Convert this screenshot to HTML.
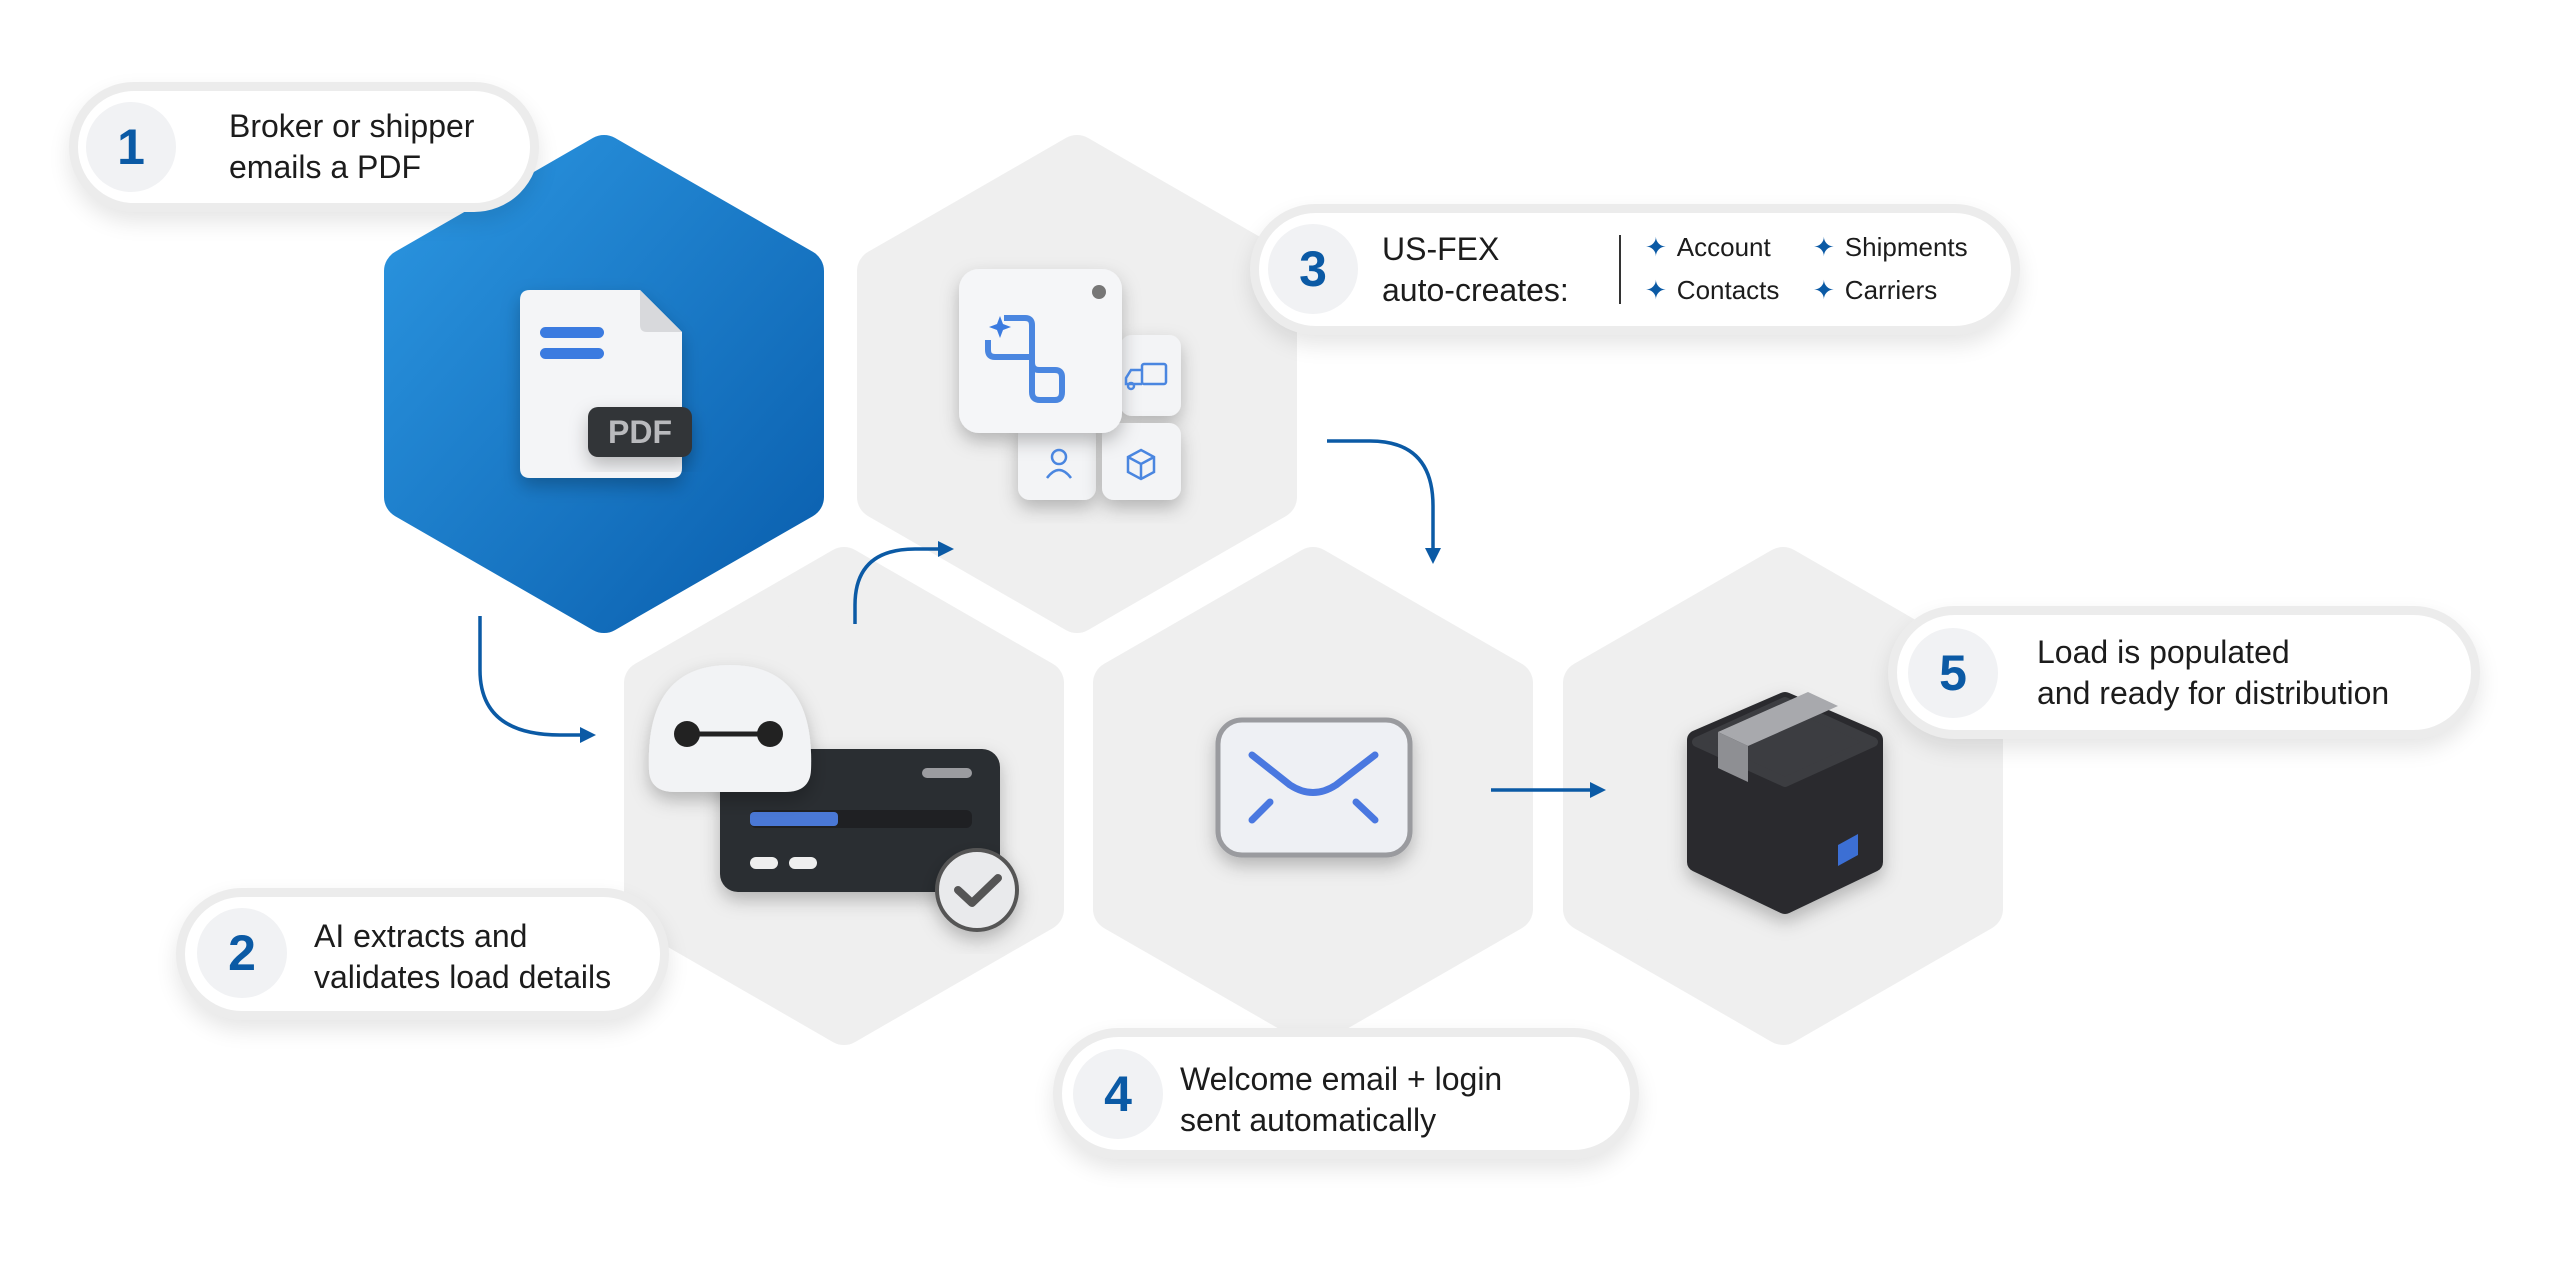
<!DOCTYPE html>
<html><head><meta charset="utf-8"><style>
html,body{margin:0;padding:0;background:#fff;}
body{width:2560px;height:1273px;position:relative;overflow:hidden;font-family:"Liberation Sans",sans-serif;}
.pill{position:absolute;background:#fff;border-radius:80px;border:9px solid #ececec;box-shadow:0 10px 22px rgba(0,0,0,0.10);box-sizing:border-box;}
.num{position:absolute;border-radius:50%;background:#f1f2f4;color:#0b5aa5;font-weight:bold;font-size:50px;display:flex;align-items:center;justify-content:center;}
.t{position:absolute;color:#1c1c1c;font-size:32px;line-height:41px;white-space:nowrap;}
.s{position:absolute;color:#1c1c1c;font-size:26px;line-height:43px;white-space:nowrap;}
.s b{color:#0b5aa5;font-weight:normal;margin-right:10px;}
svg{position:absolute;left:0;top:0;}
</style></head><body>
<svg width="2560" height="1273" viewBox="0 0 2560 1273">
<defs>
<linearGradient id="bg" x1="0" y1="0" x2="1" y2="1"><stop offset="0" stop-color="#2b95e0"/><stop offset="1" stop-color="#0a5fae"/></linearGradient>
<filter id="sh" x="-30%" y="-30%" width="160%" height="160%"><feDropShadow dx="0" dy="8" stdDeviation="9" flood-opacity="0.25"/></filter>
<marker id="ah" markerWidth="16" markerHeight="16" refX="8" refY="8" orient="auto" markerUnits="userSpaceOnUse"><path d="M0,0 L16,8 L0,16 Z" fill="#0b5aa5"/></marker>
</defs>
<g stroke-linejoin="round" stroke-width="44">
<polygon fill="#efefef" stroke="#efefef" points="1077,157 1275,271 1275,497 1077,611 879,497 879,271"/>
<polygon fill="#efefef" stroke="#efefef" points="844,569 1042,683 1042,909 844,1023 646,909 646,683"/>
<polygon fill="#efefef" stroke="#efefef" points="1313,569 1511,683 1511,909 1313,1023 1115,909 1115,683"/>
<polygon fill="#efefef" stroke="#efefef" points="1783,569 1981,683 1981,909 1783,1023 1585,909 1585,683"/>
<polygon fill="url(#bg)" stroke="url(#bg)" points="604,157 802,271 802,497 604,611 406,497 406,271"/>
</g>
<g fill="none" stroke="#0b5aa5" stroke-width="3.5">
<path d="M480,616 L480,670 Q480,735 560,735 L588,735" marker-end="url(#ah)"/>
<path d="M855,624 L855,605 Q855,549 915,549 L946,549" marker-end="url(#ah)"/>
<path d="M1327,441 L1370,441 Q1433,441 1433,506 L1433,556" marker-end="url(#ah)"/>
<path d="M1491,790 L1598,790" marker-end="url(#ah)"/>
</g>
<g filter="url(#sh)">
<path d="M530,290 L640,290 L682,332 L682,468 Q682,478 672,478 L530,478 Q520,478 520,468 L520,300 Q520,290 530,290 Z" fill="#f4f5f7"/>
</g>
<path d="M640,290 L640,325 Q640,332 647,332 L682,332 Z" fill="#d8d9dc"/>
<rect x="540" y="327" width="64" height="11" rx="5.5" fill="#3b7be0"/>
<rect x="540" y="348" width="64" height="11" rx="5.5" fill="#3b7be0"/>
<rect x="588" y="407" width="104" height="50" rx="10" fill="#333437" filter="url(#sh)"/>
<text x="640" y="443" text-anchor="middle" font-family="Liberation Sans" font-size="32" font-weight="bold" fill="#b9babd">PDF</text>
<rect x="1120" y="335" width="61" height="81" rx="12" fill="#f3f4f6" filter="url(#sh)"/>
<rect x="1018" y="423" width="78" height="77" rx="12" fill="#f3f4f6" filter="url(#sh)"/>
<rect x="1102" y="423" width="79" height="77" rx="12" fill="#f3f4f6" filter="url(#sh)"/>
<rect x="959" y="269" width="163" height="164" rx="20" fill="#f5f6f8" filter="url(#sh)"/>
<circle cx="1099" cy="292" r="7" fill="#777"/>
<path d="M988,340 L988,350 Q988,357 995,357 L1032,357 L1032,392 Q1032,400 1040,400 L1055,400 Q1062,400 1062,392 L1062,377 Q1062,370 1055,370 L1039,370 Q1032,370 1032,362 L1032,325 Q1032,318 1025,318 L1004,318" fill="none" stroke="#4a86e0" stroke-width="6" stroke-linejoin="round"/>
<path d="M1000,316 l3,8 8,3 -8,3 -3,8 -3,-8 -8,-3 8,-3z" fill="#3b7be0"/>
<g fill="none" stroke="#4a86e0" stroke-width="2.5"><rect x="1142" y="364" width="24" height="20" rx="2"/><path d="M1142,370 L1131,370 L1126,378 L1126,384 L1142,384"/><circle cx="1131" cy="386" r="3"/><circle cx="1059" cy="457" r="7"/><path d="M1047,478 Q1059,462 1071,478"/><path d="M1141,450 L1154,457 L1154,472 L1141,479 L1128,472 L1128,457 Z M1128,457 L1141,464 L1154,457 M1141,464 L1141,479"/></g>
<rect x="720" y="749" width="280" height="143" rx="18" fill="#2c2d31" filter="url(#sh)"/>
<rect x="922" y="768" width="50" height="10" rx="5" fill="#9b9ca0"/>
<rect x="750" y="810" width="222" height="18" rx="6" fill="#1f2023"/>
<rect x="750" y="812" width="88" height="14" rx="4" fill="#4a78d6"/>
<rect x="750" y="857" width="28" height="12" rx="6" fill="#eee"/>
<rect x="789" y="857" width="28" height="12" rx="6" fill="#eee"/>
<circle cx="977" cy="890" r="40" fill="#e9eaec" stroke="#555" stroke-width="4" filter="url(#sh)"/>
<path d="M958,890 L972,903 L998,878" fill="none" stroke="#555" stroke-width="8" stroke-linecap="round" stroke-linejoin="round"/>
<path d="M649,770 Q645,665 730,665 Q815,665 811,770 Q810,792 785,792 L675,792 Q650,792 649,770 Z" fill="#f2f3f5" filter="url(#sh)"/>
<line x1="687" y1="734" x2="770" y2="734" stroke="#222" stroke-width="5"/>
<circle cx="687" cy="734" r="13" fill="#222"/><circle cx="770" cy="734" r="13" fill="#222"/>
<rect x="1218" y="720" width="192" height="135" rx="24" fill="#eef0f4" stroke="#9a9b9f" stroke-width="5" filter="url(#sh)"/>
<path d="M1252,755 L1290,785 Q1313,800 1336,785 L1375,755" fill="none" stroke="#4a78e0" stroke-width="7" stroke-linecap="round"/>
<path d="M1252,820 L1270,802 M1375,820 L1356,802" stroke="#4a78e0" stroke-width="7" stroke-linecap="round"/>
<g filter="url(#sh)">
<path d="M1785,702 L1873,740 L1873,862 L1785,904 L1697,862 L1697,740 Z" fill="#2a2b2e" stroke="#2a2b2e" stroke-width="20" stroke-linejoin="round"/>
</g>
<path d="M1697,742 L1785,702 L1873,742 L1785,782 Z" fill="#3c3d41" stroke="#3c3d41" stroke-width="10" stroke-linejoin="round"/>
<path d="M1718,732 L1808,692 L1838,706 L1748,746 Z" fill="#a8a9ad"/>
<path d="M1718,732 L1748,746 L1748,782 L1718,768 Z" fill="#8e8f93"/>
<path d="M1838,845 L1858,834 L1858,855 L1838,866 Z" fill="#3c6fd4"/>
</svg>

<div class="pill" style="left:69px;top:82px;width:470px;height:130px;"></div>
<div class="num" style="left:86px;top:102px;width:90px;height:90px;">1</div>
<div class="t" style="left:229px;top:106px;">Broker or shipper<br>emails a PDF</div>

<div class="pill" style="left:176px;top:888px;width:493px;height:132px;"></div>
<div class="num" style="left:197px;top:908px;width:90px;height:90px;">2</div>
<div class="t" style="left:314px;top:916px;">AI extracts and<br>validates load details</div>

<div class="pill" style="left:1250px;top:204px;width:770px;height:131px;"></div>
<div class="num" style="left:1268px;top:224px;width:90px;height:90px;">3</div>
<div class="t" style="left:1382px;top:229px;">US-FEX<br>auto-creates:</div>
<div style="position:absolute;left:1619px;top:235px;width:2px;height:69px;background:#333;"></div>
<div class="s" style="left:1645px;top:226px;"><b>✦</b>Account<br><b>✦</b>Contacts</div>
<div class="s" style="left:1813px;top:226px;"><b>✦</b>Shipments<br><b>✦</b>Carriers</div>

<div class="pill" style="left:1053px;top:1028px;width:586px;height:131px;"></div>
<div class="num" style="left:1073px;top:1049px;width:90px;height:90px;">4</div>
<div class="t" style="left:1180px;top:1059px;">Welcome email + login<br>sent automatically</div>

<div class="pill" style="left:1888px;top:606px;width:592px;height:133px;"></div>
<div class="num" style="left:1908px;top:628px;width:90px;height:90px;">5</div>
<div class="t" style="left:2037px;top:632px;">Load is populated<br>and ready for distribution</div>
</body></html>
